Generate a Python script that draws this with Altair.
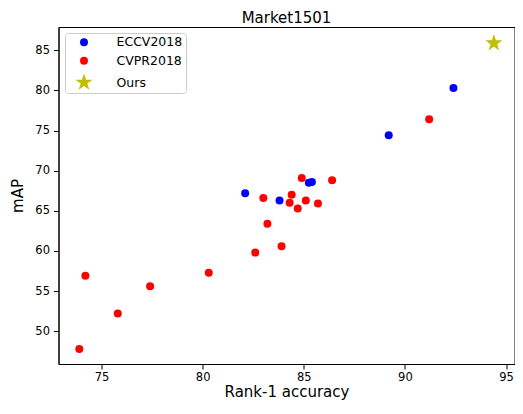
import altair as alt
import pandas as pd

eccv_rank1 = [92.4, 89.2, 82.1, 83.8, 85.25, 85.4]
eccv_map = [80.3, 74.4, 67.2, 66.3, 68.5, 68.6]
cvpr_rank1 = [91.2, 83.0, 83.2, 82.6, 83.9, 84.3, 84.4, 84.7, 84.9, 85.1, 85.7, 86.4, 80.3, 74.2, 77.4, 75.8, 73.9]
cvpr_map = [76.4, 66.6, 63.4, 59.8, 60.6, 66.0, 67.0, 65.3, 69.1, 66.3, 65.9, 68.8, 57.3, 56.9, 55.6, 52.2, 47.8]
ours_rank1 = [94.4]
ours_map = [85.9]

series = ["ECCV2018", "CVPR2018", "Ours"]
colors = ["#0000ff", "#ff0000", "#bfbf00"]
STAR = ("M0,-1L0.2245,-0.309L0.951,-0.309L0.3633,0.118L0.5878,0.809L0,0.382"
        "L-0.5878,0.809L-0.3633,0.118L-0.951,-0.309L-0.2245,-0.309Z")
shapes = ["circle", "circle", STAR]
sizes = [64, 64, 330]
x_ticks = [75, 80, 85, 90, 95]
y_ticks = [50, 55, 60, 65, 70, 75, 80, 85]

rows = []
for name, xs, ys in [("ECCV2018", eccv_rank1, eccv_map),
                     ("CVPR2018", cvpr_rank1, cvpr_map),
                     ("Ours", ours_rank1, ours_map)]:
    for a, b in zip(xs, ys):
        rows.append({"method": name, "rank1": a, "map": b, "order": series.index(name)})
df = pd.DataFrame(rows)

font = "DejaVu Sans"

leg = alt.Legend(
    title=None, orient="none", legendX=6.5, legendY=6,
    fillColor="white", strokeColor="#cccccc", cornerRadius=3,
    padding=3, labelFont=font, labelFontSize=12.5, labelColor="#000000",
    labelOffset=23, symbolOffset=6.5, rowPadding=1.5, gridAlign="all",
    symbolStrokeWidth=0, symbolOpacity=1,
)

chart = alt.Chart(df).mark_point(filled=True, opacity=1).encode(
    x=alt.X("rank1:Q", title="Rank-1 accuracy",
            scale=alt.Scale(domain=[72.87, 95.42], nice=False, zero=False),
            axis=alt.Axis(values=x_ticks, grid=False, tickSize=5, labelPadding=2,
                          titlePadding=2)),
    y=alt.Y("map:Q", title="mAP",
            scale=alt.Scale(domain=[45.92, 87.9], nice=False, zero=False),
            axis=alt.Axis(values=y_ticks, grid=False, tickSize=5, labelPadding=4,
                          titlePadding=9)),
    color=alt.Color("method:N", scale=alt.Scale(type="ordinal", domain=series, range=colors),
                    legend=leg, sort=series),
    shape=alt.Shape("method:N", scale=alt.Scale(type="ordinal", domain=series, range=shapes),
                    legend=leg, sort=series),
    size=alt.Size("method:N", scale=alt.Scale(type="ordinal", domain=series, range=sizes),
                  legend=leg, sort=series),
    order=alt.Order("order:Q"),
).properties(
    width=456, height=337,
    title=alt.TitleParams("Market1501", font=font, fontSize=15, fontWeight="normal",
                          color="#000000", offset=1),
    autosize=alt.AutoSizeParams(type="none"),
    padding={"left": 50.5, "top": 19, "right": 0.5, "bottom": 38},
).configure_view(
    stroke="#000000", strokeWidth=1
).configure_axis(
    labelFont=font, labelFontSize=11.5, labelColor="#000000",
    titleFont=font, titleFontSize=15, titleFontWeight="normal", titleColor="#000000",
    domainColor="#000000", tickColor="#000000",
)

chart.save("out.html", embed_options={"renderer": "svg", "actions": False})
